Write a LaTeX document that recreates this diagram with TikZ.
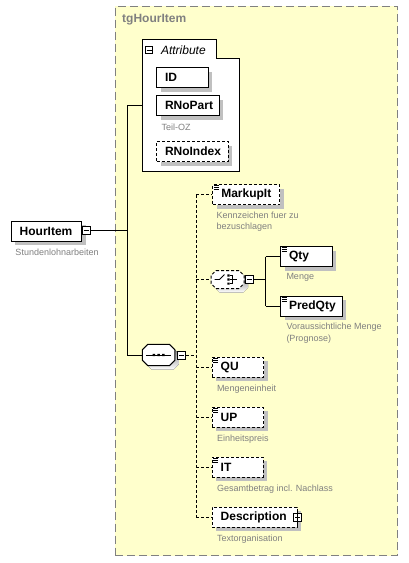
\documentclass[tikz,border=0pt]{standalone}
\usepackage{fontspec}
\setmainfont{Liberation Sans}
\usetikzlibrary{shadows}
\definecolor{grpfill}{RGB}{255,255,204}
\definecolor{grpline}{RGB}{128,128,128}
\definecolor{shade}{RGB}{192,192,192}
\definecolor{desctext}{RGB}{128,128,128}
\newcommand\octagonpath[3]{(-#1+#3,-#2) -- (#1-#3,-#2) -- (#1,-#2+#3) -- (#1,#2-#3) -- (#1-#3,#2) -- (-#1+#3,#2) -- (-#1,#2-#3) -- (-#1,-#2+#3) -- cycle}
\begin{document}
\begin{tikzpicture}[x=1pt,y=-1pt,line width=1pt,
  shad/.style={general shadow={fill=shade,draw=none,shadow xshift=4pt,shadow yshift=-4pt}},
  elem/.style={draw,fill=white,shad,font=\bfseries\fontsize{12}{14}\selectfont,anchor=north west,
    minimum height=20pt,inner xsep=8.5pt,inner ysep=0pt,align=left},
  opt/.style={dash pattern=on 3pt off 2pt},
  dsc/.style={anchor=west,inner sep=0pt,text=desctext,font=\fontsize{9}{11.7}\selectfont,align=left},
  pm/.style={draw,fill=white,minimum size=8pt,inner sep=0pt},
  anchorbox/.style={draw=none,inner sep=0pt},
  icon/.style={line width=0.8pt}
]
\useasboundingbox (0,0) rectangle (408,563);
\fill[white] (0,0) rectangle (408,563);

% group
\node[draw=grpline,fill=grpfill,dash pattern=on 8pt off 4pt,minimum width=282.5pt,minimum height=549.5pt,
  anchor=north west,inner sep=0pt] (grp) at (114.5,5.5) {};
\node[anchor=west,inner sep=0pt,text=grpline,font=\bfseries\fontsize{12}{14}\selectfont] (grplabel) at (121.7,20) {tgHourItem};

% attribute box
\draw[fill=white] (142.3,39.3) -- (216.7,39.3) -- (216.7,58.7) -- (239.3,58.7) -- (239.3,171.7) -- (142.3,171.7) -- cycle;
\node[pm,minimum size=7pt] (attrm) at (149,50) {};
\draw ([xshift=1.5pt]attrm.west) -- ([xshift=-1.5pt]attrm.east);
\node[anchor=west,inner sep=0pt,font=\itshape\fontsize{12}{14}\selectfont] (attrlabel) at (160.5,50) {Attribute};
\coordinate (attrin) at (142.3,105.3);

\node[elem,text width=34.7pt] (id) at (156,67.3) {ID};
\node[elem,text width=45.7pt] (rnopart) at (156,95.3) {RNoPart};
\node[dsc] (drnopart) at (161,127.3) {Teil-OZ};
\node[elem,opt,text width=54.7pt] (rnoindex) at (156,141) {RNoIndex};

% root
\node[elem,text width=53.3pt] (hour) at (10.7,220.7) {HourItem};
\node[pm] (hourm) at (86,230.7) {};
\draw ([xshift=2pt]hourm.west) -- ([xshift=-2pt]hourm.east);
\node[dsc] (dhour) at (15,252.5) {Stundenlohnarbeiten};
\coordinate (trunk) at (127.3,230.7);
\draw (hourm.east) -- (trunk);

% sequence
\node[anchorbox,minimum width=32.7pt,minimum height=21.4pt] (seq) at (158.6,355) {};
\fill[shade,shift={(seq.center)},shift={(4,4)}] \octagonpath{16.35}{10.7}{5.5};
\draw[fill=white,shift={(seq.center)}] \octagonpath{16.35}{10.7}{5.5};
\draw ([xshift=4pt]seq.west) -- ([xshift=-4pt]seq.east);
\fill[shift={(seq.center)}] (-6,-1.2) rectangle (-3.6,1.2) (-1.2,-1.2) rectangle (1.2,1.2) (3.6,-1.2) rectangle (6,1.2);
\node[pm] (seqm) at (181,355) {};
\draw ([xshift=2pt]seqm.west) -- ([xshift=-2pt]seqm.east);
\draw (attrin) -| (trunk) |- (seq.west);

% children
\node[elem,opt,text width=50pt] (markup) at (212.3,184.3) {MarkupIt};
\node[dsc] (dmarkup) at (216,221.8) {Kennzeichen fuer zu\\bezuschlagen};

\node[anchorbox,minimum width=33pt,minimum height=18pt] (choice) at (227.5,279.5) {};
\fill[shade,shift={(choice.center)},shift={(4,4)}] \octagonpath{16.5}{9}{5};
\draw[opt,fill=white,shift={(choice.center)}] \octagonpath{16.5}{9}{5};
\draw[shift={(choice.center)},line width=0.8pt] (-13,0) -- (-8,0) -- (-3,-5);
\fill[shift={(choice.center)}] (-0.2,-5.2) rectangle (2,-3) (-0.2,-1.1) rectangle (2,1.1) (-0.2,3) rectangle (2,5.2);
\draw[shift={(choice.center)},line width=0.8pt] (2,-4.1) -- (5,-4.1) -- (5,4.1) -- (2,4.1) (2,0) -- (9,0);
\node[pm] (choicem) at (249.5,279.5) {};
\draw ([xshift=2pt]choicem.west) -- ([xshift=-2pt]choicem.east);
\coordinate (cv) at (265.5,279.5);
\draw (choicem.east) -- (cv);

\node[elem,text width=34.7pt] (qty) at (280,246) {Qty};
\node[dsc] (dqty) at (286,277.7) {Menge};
\node[elem,text width=44.7pt] (predqty) at (280,295.7) {PredQty};
\node[dsc] (dpredqty) at (286,333) {Voraussichtliche Menge\\(Prognose)};
\draw (qty.west -| cv) -- (predqty.west -| cv);
\draw (qty.west -| cv) -- (qty.west);
\draw (predqty.west -| cv) -- (predqty.west);

\node[elem,opt,text width=34.6pt] (qu) at (211.7,356.7) {QU};
\node[dsc] (dqu) at (216.5,389.3) {Mengeneinheit};
\node[elem,opt,text width=34.6pt] (up) at (211.7,406.7) {UP};
\node[dsc] (dup) at (216.5,439) {Einheitspreis};
\node[elem,opt,text width=34pt] (it) at (211.7,456.7) {IT};
\node[dsc] (dit) at (216.5,489) {Gesamtbetrag incl. Nachlass};
\node[elem,opt,text width=68pt] (desc) at (211.7,506.7) {Description};
\node[pm] (descp) at (desc.east) {};
\draw ([xshift=2pt]descp.west) -- ([xshift=-2pt]descp.east) ([yshift=2pt]descp.north) -- ([yshift=-2pt]descp.south);
\node[dsc] (ddesc) at (216.5,538.7) {Textorganisation};

% icons
\foreach \n in {markup,qty,predqty,qu,up,it}{
  \draw[icon] ([shift={(1.5,1.2)}]\n.north west) -- +(5,0)
              ([shift={(1.5,3.2)}]\n.north west) -- +(5,0)
              ([shift={(1.5,5.2)}]\n.north west) -- +(5,0);
}

% optional connectors
\coordinate (v) at (196,355);
\draw[opt] (seqm.east) -- (v);
\draw[opt] (markup.west -| v) -- (desc.west -| v);
\foreach \n in {markup,choice,qu,up,it,desc}{
  \draw[opt] (\n.west -| v) -- (\n.west);
}
\end{tikzpicture}
\end{document}
